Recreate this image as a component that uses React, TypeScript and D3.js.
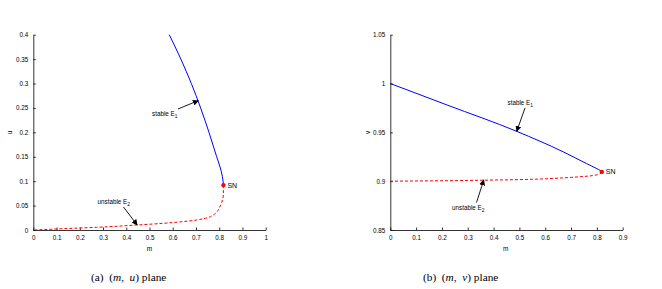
import React, { useEffect, useRef } from 'react';
import * as d3 from 'd3';

// (m, u) plane
const uStableM = [0.585, 0.635, 0.68, 0.72, 0.756, 0.789, 0.809, 0.8165, 0.818];
const uStableU = [0.4, 0.35, 0.3, 0.25, 0.2, 0.15, 0.12, 0.1, 0.092];
const uUnstableM = [0.818, 0.818, 0.806, 0.775, 0.703, 0.559, 0.445, 0.273, 0.129, 0];
const uUnstableU = [0.092, 0.075, 0.051, 0.0307, 0.0205, 0.0137, 0.0102, 0.0055, 0.0027, 0];
const uTicksX = [0, 0.1, 0.2, 0.3, 0.4, 0.5, 0.6, 0.7, 0.8, 0.9, 1];
const uTicksY = [0, 0.05, 0.1, 0.15, 0.2, 0.25, 0.3, 0.35, 0.4];

// (m, v) plane
const vStableM = [0, 0.22, 0.49, 0.67, 0.76, 0.80, 0.815, 0.819];
const vStableV = [1, 0.978, 0.951, 0.930, 0.918, 0.9128, 0.9105, 0.9095];
const vUnstableM = [0.819, 0.812, 0.79, 0.735, 0.606, 0.36, 0];
const vUnstableV = [0.9095, 0.9075, 0.906, 0.9046, 0.9025, 0.901, 0.9];
const vTicksX = [0, 0.1, 0.2, 0.3, 0.4, 0.5, 0.6, 0.7, 0.8, 0.9];
const vTicksY = [0.85, 0.9, 0.95, 1, 1.05];

const SANS = '"Liberation Sans", Arial, sans-serif';
const SERIF = '"Liberation Serif", "Times New Roman", serif';

function zip(xs: number[], ys: number[]) {
    return xs.map((x, i) => [x, ys[i]] as [number, number]);
}

function drawPanel(svg: any, opts: any) {
    const { left, right, top, bottom, xDomain, yDomain, xTicks, yTicks, stable, unstable, yLabel,
        stableNote, unstableNote, sn, curve } = opts;
    const x = d3.scaleLinear().domain(xDomain).range([left, right]);
    const y = d3.scaleLinear().domain(yDomain).range([bottom, top]);
    const g = svg.append('g');

    const xAxis = g.append('g')
        .attr('transform', 'translate(0,' + bottom + ')')
        .call(d3.axisBottom(x).tickValues(xTicks).tickSizeInner(-2.5).tickSizeOuter(0).tickPadding(6)
            .tickFormat((d: any) => String(+d)));
    const yAxis = g.append('g')
        .attr('transform', 'translate(' + left + ',0)')
        .call(d3.axisLeft(y).tickValues(yTicks).tickSizeInner(-2.5).tickSizeOuter(0).tickPadding(5)
            .tickFormat((d: any) => String(+d.toFixed(2))));
    [xAxis, yAxis].forEach(a => {
        a.select('.domain').attr('stroke', '#000').attr('stroke-width', 0.8);
        a.selectAll('line').attr('stroke', '#000').attr('stroke-width', 0.8);
        a.selectAll('text').attr('font-family', SANS).attr('font-size', 6.3).attr('fill', '#000');
    });

    const line = d3.line<[number, number]>()
        .curve(curve)
        .x(d => x(d[0]))
        .y(d => y(d[1]));

    g.append('path')
        .attr('d', line(stable))
        .attr('fill', 'none')
        .attr('stroke', '#0000ff')
        .attr('stroke-width', 1);
    g.append('path')
        .attr('d', line(unstable))
        .attr('fill', 'none')
        .attr('stroke', '#ff0000')
        .attr('stroke-width', 1)
        .attr('stroke-dasharray', '3,2');

    g.append('circle')
        .attr('cx', x(sn[0])).attr('cy', y(sn[1])).attr('r', 2.2)
        .attr('fill', '#ff0000');
    g.append('text')
        .attr('x', x(sn[0]) + 4).attr('y', y(sn[1]) + 2.5)
        .attr('font-family', SANS).attr('font-size', 7).attr('fill', '#000')
        .text('SN');

    // axis labels
    g.append('text')
        .attr('x', (left + right) / 2 + opts.mShift).attr('y', bottom + 21)
        .attr('text-anchor', 'middle')
        .attr('font-family', SANS).attr('font-size', 6.5).attr('fill', '#000')
        .text('m');
    g.append('text')
        .attr('transform', 'translate(' + opts.yLabelX + ',' + (top + bottom) / 2 + ') rotate(-90)')
        .attr('text-anchor', 'middle')
        .attr('font-family', SANS).attr('font-size', 6.5).attr('fill', '#000')
        .text(yLabel);

    [stableNote, unstableNote].forEach(n => {
        const t = g.append('text')
            .attr('x', n.tx).attr('y', n.ty)
            .attr('font-family', SANS).attr('font-size', 6.3).attr('fill', '#000');
        t.append('tspan').text(n.label + ' E');
        t.append('tspan').attr('font-size', 4.8).attr('dy', 2).text(n.sub);
        g.append('line')
            .attr('x1', n.x1).attr('y1', n.y1)
            .attr('x2', x(n.m)).attr('y2', y(n.v))
            .attr('stroke', '#000').attr('stroke-width', 0.9)
            .attr('marker-end', 'url(#arrow)');
    });
}

export default function App() {
    const ref = useRef<SVGSVGElement>(null);

    useEffect(() => {
        const svg = d3.select(ref.current);
        svg.selectAll('*').remove();

        svg.append('rect').attr('width', 662).attr('height', 289).attr('fill', '#fff');
        svg.append('defs').append('marker')
            .attr('id', 'arrow')
            .attr('viewBox', '0 0 10 10')
            .attr('refX', 9).attr('refY', 5)
            .attr('markerWidth', 6).attr('markerHeight', 6)
            .attr('markerUnits', 'userSpaceOnUse')
            .attr('orient', 'auto')
            .append('path')
            .attr('d', 'M0,0 L10,5 L0,10 Z')
            .attr('fill', '#000');

        drawPanel(svg, {
            left: 33.3, right: 265.7, top: 34.7, bottom: 230,
            xDomain: [0, 1], yDomain: [0, 0.4],
            xTicks: uTicksX, yTicks: uTicksY,
            stable: zip(uStableM, uStableU),
            unstable: zip(uUnstableM, uUnstableU),
            curve: d3.curveMonotoneY,
            sn: [uStableM[uStableM.length - 1], uStableU[uStableU.length - 1]],
            yLabel: 'u', yLabelX: 12, mShift: 0,
            stableNote: { label: 'stable', sub: '1', tx: 152, ty: 116, x1: 178, y1: 109, m: 0.71, v: 0.265 },
            unstableNote: { label: 'unstable', sub: '2', tx: 97.5, ty: 204, x1: 123.5, y1: 207, m: 0.447, v: 0.0102 },
        });

        drawPanel(svg, {
            left: 390.3, right: 622.7, top: 34.7, bottom: 230,
            xDomain: [0, 0.9], yDomain: [0.85, 1.05],
            xTicks: vTicksX, yTicks: vTicksY,
            stable: zip(vStableM, vStableV),
            unstable: zip(vUnstableM, vUnstableV),
            curve: d3.curveMonotoneX,
            sn: [vStableM[vStableM.length - 1], vStableV[vStableV.length - 1]],
            yLabel: 'v', yLabelX: 369.5, mShift: -0.7,
            stableNote: { label: 'stable', sub: '1', tx: 507.5, ty: 105, x1: 525, y1: 108, m: 0.4895, v: 0.951 },
            unstableNote: { label: 'unstable', sub: '2', tx: 452, ty: 210, x1: 476.5, y1: 202.5, m: 0.362, v: 0.9013 },
        });

        const captions = [
            { x: 91, parts: ['(a)  (', 'm', ',  ', 'u', ') plane'] },
            { x: 423, parts: ['(b)  (', 'm', ',  ', 'v', ') plane'] },
        ];
        captions.forEach(c => {
            const t = svg.append('text')
                .attr('x', c.x).attr('y', 280.5)
                .style('white-space', 'pre')
                .attr('font-family', SERIF).attr('font-size', 11.3).attr('fill', '#000');
            c.parts.forEach((p, i) => {
                t.append('tspan').attr('font-style', i % 2 === 1 ? 'italic' : 'normal').text(p);
            });
        });
    }, []);

    return (
        <svg ref={ref} width={662} height={289}
            style={{ position: 'absolute', left: 0, top: 0, display: 'block' }} />
    );
}
